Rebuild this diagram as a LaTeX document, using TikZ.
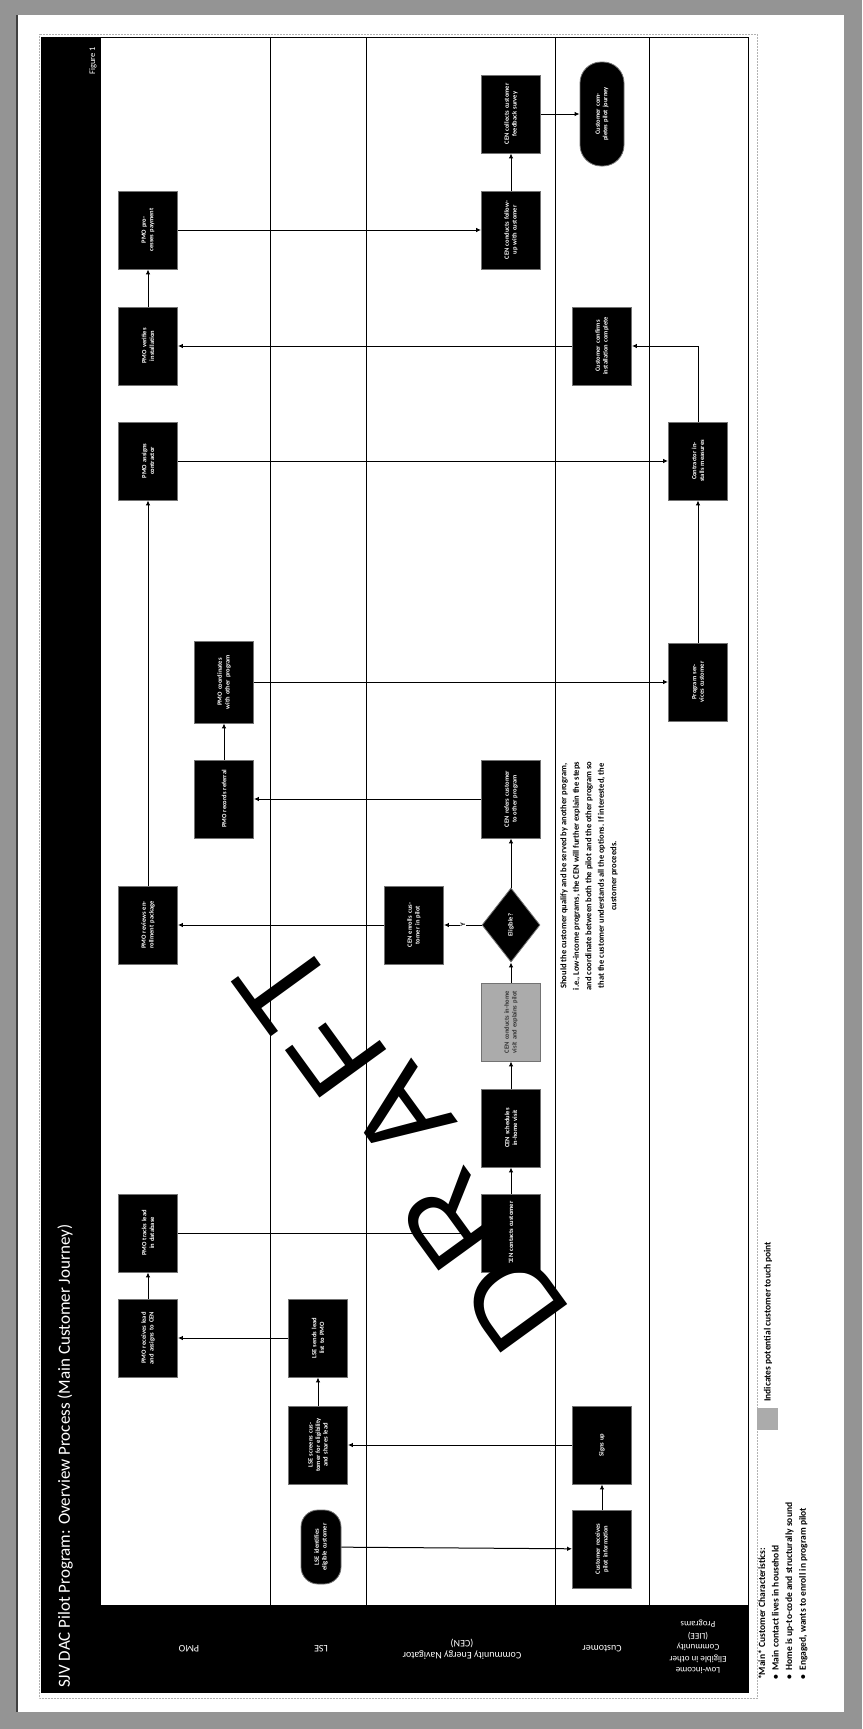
\documentclass[tikz,border=0pt]{standalone}
\usepackage{fontspec}
\setmainfont{Carlito}
\newfontfamily\draftfont{Liberation Sans}
\usetikzlibrary{arrows.meta,shapes.geometric,shapes.misc}
\begin{document}
\begin{tikzpicture}[x=1pt,y=-1pt,
  box/.style={rectangle, fill=black, draw=black!55, line width=0.8pt, text=white,
    font=\fontsize{6.5}{7.6}\selectfont\bfseries, align=center, text width=64pt,
    minimum width=78pt, minimum height=59pt, inner sep=2pt, rotate=90},
  graybox/.style={box, fill=black!33, text=black!80},
  term/.style={box, rounded corners=19pt, text width=56pt},
  dec/.style={diamond, fill=black, draw=black!55, line width=0.8pt, text=white,
    font=\fontsize{6.5}{7.6}\selectfont\bfseries, align=center,
    minimum width=74pt, minimum height=58pt, inner sep=0pt, rotate=90},
  arr/.style={-{Latex[length=5pt,width=4.5pt]}, line width=1pt},
  lane/.style={line width=0.9pt, black},
  lanelabel/.style={text=white, font=\fontsize{10}{12}\selectfont, align=center, rotate=180},
  vtext/.style={rotate=90, inner sep=0pt},
  wm/.style={rotate=126, inner sep=0pt, text=black, font=\draftfont\fontsize{120}{120}\selectfont},
]
% page frame
\useasboundingbox (0,0) rectangle (862,1729);
\fill[black!42] (0,0) rectangle (862,1729);
\fill[white] (17,15) rectangle (844,1712);
\draw[black!75, line width=1.2pt] (17,15) -- (17,1712);
\draw[black!30, densely dotted, line width=0.5pt] (39,34) rectangle (757,1698);

% title bar and header band
\fill[black] (41,37) rectangle (101,1693);
\fill[black] (41,1605) rectangle (748,1693);
\node[vtext, anchor=west, text=white, font=\fontsize{17}{19}\selectfont] (title) at (65,1688)
  {SJV DAC Pilot Program: Overview Process (Main Customer Journey)};
\node[vtext, text=white, font=\fontsize{8.5}{10}\selectfont] (fig) at (93,61) {Figure 1};

% lanes
\draw[lane] (101,37) -- (748,37);
\draw[lane] (748,37) -- (748,1693);
\foreach \xx in {270,366,555,649} \draw[lane] (\xx,37) -- (\xx,1605);

% lane labels
\node[lanelabel] (lpmo) at (189,1649) {PMO};
\node[lanelabel] (llse) at (321,1649) {LSE};
\node[lanelabel] (lcen) at (462,1649) {Community Energy Navigator\\(CEN)};
\node[lanelabel] (lcus) at (602,1649) {Customer};
\node[lanelabel, font=\fontsize{9}{11.5}\selectfont] (llow) at (698,1647)
  {Low-income\\Eligible in other\\Community\\(LIEE)\\Programs};

% nodes
\node[term, minimum width=74pt, minimum height=40pt, rounded corners=17pt, text width=50pt] (start) at (321,1547) {LSE identifies eligible customer};
\node[box] (S) at (602,1549) {Customer receives pilot information};
\node[box] (T) at (602,1445) {Signs up};
\node[box] (U) at (318,1445) {LSE screens customer for eligibility and shares lead};
\node[box] (V) at (318,1338) {LSE sends lead list to PMO};
\node[box] (W) at (148,1338) {PMO receives lead and assigns to CEN};
\node[box] (R) at (148,1233) {PMO tracks lead in database};
\node[box] (Q) at (511,1233) {CEN contacts customer};
\node[box] (P) at (511,1128) {CEN schedules in-home visit};
\node[graybox] (O) at (511,1022) {CEN conducts in-home visit and explains pilot};
\node[dec] (N) at (511,925) {Eligible?};
\node[box] (M) at (414,925) {CEN enrolls customer in pilot};
\node[box] (L) at (148,925) {PMO reviews enrollment package};
\node[box] (K) at (511,799) {CEN refers customer to other program};
\node[box] (J) at (224,799) {PMO records referral};
\node[box, minimum width=82pt] (I) at (224,682) {PMO coordinates with other program};
\node[box] (H) at (698,682) {Program services customer};
\node[box] (C) at (148,461) {PMO assigns contractor};
\node[box] (G) at (698,461) {Contractor installs measures};
\node[box] (F) at (602,346) {Customer confirms installation complete};
\node[box] (B) at (148,346) {PMO verifies installation};
\node[box] (A) at (148,230) {PMO processes payment};
\node[box] (D) at (511,230) {CEN conducts follow-up with customer};
\node[box] (E) at (511,114) {CEN collects customer feedback survey};
\node[term, minimum width=104pt, minimum height=44pt, rounded corners=21pt, text width=70pt] (end) at (602,114) {Customer completes pilot journey};

% connectors
\draw[arr] (start) -- (S);
\draw[arr] (S) -- (T);
\draw[arr] (T) -- (U);
\draw[arr] (U) -- (V);
\draw[arr] (V) -- (W);
\draw[arr] (W) -- (R);
\draw[arr] (R) -- (Q);
\draw[arr] (Q) -- (P);
\draw[arr] (P) -- (O);
\draw[arr] (O) -- (N);
\draw[arr] (N) -- node[fill=white, inner sep=0.5pt, rotate=90, font=\fontsize{7}{8}\selectfont\bfseries] (ylab) {Y} (M);
\draw[arr] (M) -- (L);
\draw[arr] (L) -- (C);
\draw[arr] (N) -- (K);
\draw[arr] (K) -- (J);
\draw[arr] (J) -- (I);
\draw[arr] (I) -- (H);
\draw[arr] (H) -- (G);
\draw[arr] (C) -- (G);
\draw[arr] (G) |- (F);
\draw[arr] (F) -- (B);
\draw[arr] (B) -- (A);
\draw[arr] (A) -- (D);
\draw[arr] (D) -- (E);
\draw[arr] (E) -- (end);

% annotation
\node[vtext, align=center, font=\fontsize{8.5}{12.5}\selectfont\bfseries] (note) at (589,876)
  {Should the customer qualify and be served by another program,\\
   i.e., Low-income programs, the CEN will further explain the steps\\
   and coordinate between both the pilot and the other program so\\
   that the customer understands all the options. If interested, the\\
   customer proceeds.};

% legend
\fill[black!33] (757,1408) rectangle (778,1430);
\node[vtext, anchor=west, font=\fontsize{9.5}{11}\selectfont\bfseries] (tp) at (768,1402) {Indicates potential customer touch point};
\node[vtext, anchor=north west, align=left, font=\fontsize{9.5}{13.6}\selectfont\bfseries] (chars) at (758,1680)
  {*Main* Customer Characteristics:\\
   \textbullet\enspace Main contact lives in household\\
   \textbullet\enspace Home is up-to-code and structurally sound\\
   \textbullet\enspace Engaged, wants to enroll in program pilot};

% watermark
\node[wm] (wD) at (515,1302) {D};
\node[wm] (wR) at (453,1220) {R};
\node[wm] (wA) at (402,1114) {A};
\node[wm] (wF) at (338,1052) {F};
\node[wm] (wT) at (285,985) {T};
\end{tikzpicture}
\end{document}
